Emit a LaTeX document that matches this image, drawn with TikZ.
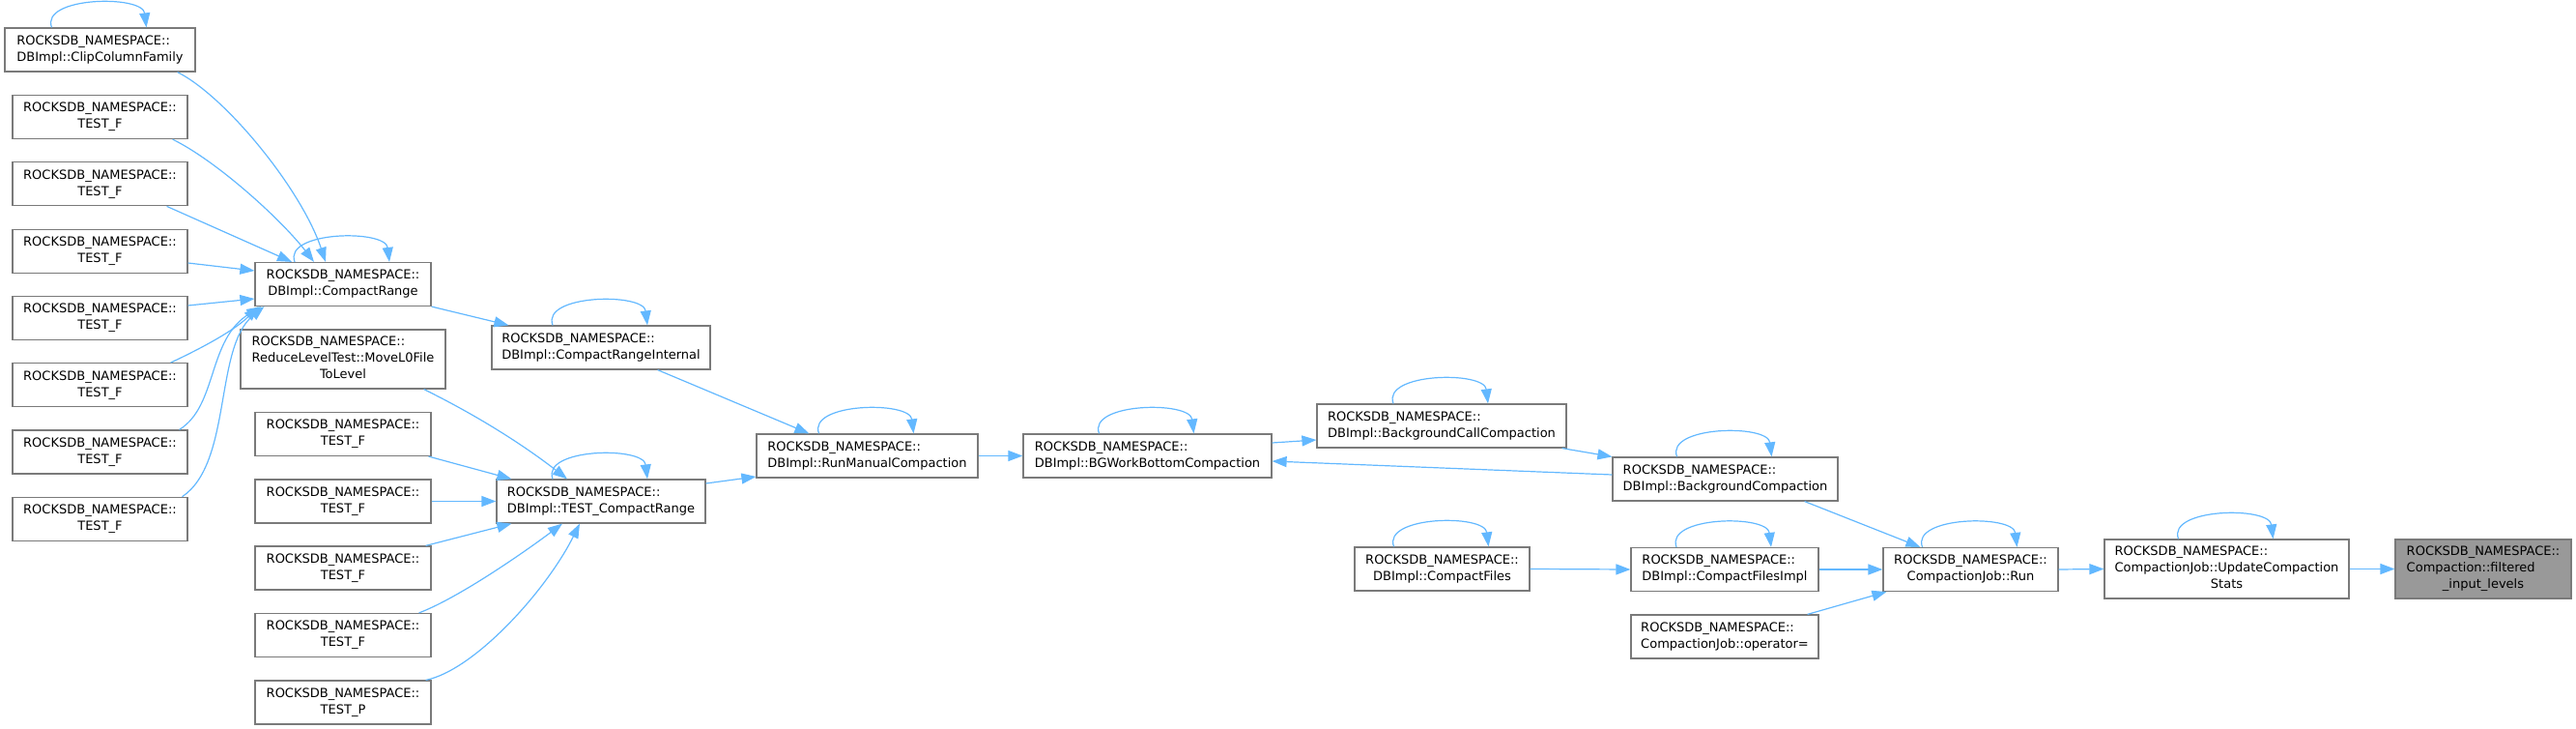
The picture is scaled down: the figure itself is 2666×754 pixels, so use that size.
\documentclass[tikz,border=0pt]{standalone}
\usepackage{fontspec}
\setmainfont{DejaVu Sans}
\usepackage{xcolor}
\usetikzlibrary{arrows.meta}
\definecolor{edgeblue}{HTML}{63B8FF}
\definecolor{boxgray}{HTML}{7A7A7A}
\definecolor{selgray}{HTML}{999999}
\newcommand{\ns}{ROCKSDB\_NAMESPACE::}
\newcommand{\fnname}[2]{\begin{tabular}{@{}l@{}}#1\\\multicolumn{1}{@{}c@{}}{#2}\end{tabular}}
\newcommand{\fnnamelong}[3]{\begin{tabular}{@{}l@{}}#1\\#2\\\multicolumn{1}{@{}c@{}}{#3}\end{tabular}}

\begin{document}
\begin{tikzpicture}[x=1pt,y=-1pt,
    fn/.style={draw=boxgray,line width=1.2pt,fill=white,inner sep=0pt,minimum height=45pt,font=\fontsize{13}{17}\selectfont},
    fnsel/.style={fn,fill=selgray},
    call/.style={draw=edgeblue,line width=1.2pt,-{Triangle[length=15pt,width=11pt]}}]
    \useasboundingbox (0,0) rectangle (2666,754);

    % left column
    \node[fn,minimum width=197pt] (ccf) at (103.5,51.5) {\fnname{\ns}{DBImpl::ClipColumnFamily}};
    \foreach \i/\y in {1/121,2/190.3,3/259.6,4/328.9,5/398.2,6/467.5,7/536.8}
        \node[fn,minimum width=181pt] (tf\i) at (103.5,\y) {\fnname{\ns}{TEST\_F}};

    % second column
    \node[fn,minimum width=182pt] (cr) at (355,294) {\fnname{\ns}{DBImpl::CompactRange}};
    \node[fn,minimum width=212pt,minimum height=61pt] (mvl) at (355,371.5) {\fnnamelong{\ns}{ReduceLevelTest::MoveL0File}{ToLevel}};
    \foreach \i/\y in {1/449,2/518.5,3/587.5,4/657}
        \node[fn,minimum width=182pt] (mf\i) at (355,\y) {\fnname{\ns}{TEST\_F}};
    \node[fn,minimum width=182pt] (mp) at (355,726.5) {\fnname{\ns}{TEST\_P}};

    % the rest
    \node[fn,minimum width=226pt] (cri) at (622,359.5) {\fnname{\ns}{DBImpl::CompactRangeInternal}};
    \node[fn,minimum width=216pt] (tcr) at (622,518.5) {\fnname{\ns}{DBImpl::TEST\_CompactRange}};
    \node[fn,minimum width=229pt] (rmc) at (897.5,471.5) {\fnname{\ns}{DBImpl::RunManualCompaction}};
    \node[fn,minimum width=257pt] (bgw) at (1187.5,471.5) {\fnname{\ns}{DBImpl::BGWorkBottomCompaction}};
    \node[fn,minimum width=258pt] (bcc) at (1492,440.5) {\fnname{\ns}{DBImpl::BackgroundCallCompaction}};
    \node[fn,minimum width=233pt] (bgc) at (1785.5,495.5) {\fnname{\ns}{DBImpl::BackgroundCompaction}};
    \node[fn,minimum width=181pt] (cf) at (1492.5,588.5) {\fnname{\ns}{DBImpl::CompactFiles}};
    \node[fn,minimum width=194pt] (cfi) at (1785,589) {\fnname{\ns}{DBImpl::CompactFilesImpl}};
    \node[fn,minimum width=194pt] (opr) at (1785,658.5) {\fnname{\ns}{CompactionJob::operator=}};
    \node[fn,minimum width=181pt] (run) at (2039.5,589) {\fnname{\ns}{CompactionJob::Run}};
    \node[fn,minimum width=253pt,minimum height=61pt] (ucs) at (2304.5,588.5) {\fnnamelong{\ns}{CompactionJob::UpdateCompaction}{Stats}};
    \node[fnsel,minimum width=182pt,minimum height=61pt] (fil) at (2570,588.5) {\fnnamelong{\ns}{Compaction::filtered}{\_input\_levels}};

    % calls into CompactRange
    \draw[call] ([xshift=-19pt]ccf.south east) .. controls +(50,25) and +(-25,-75) .. ([xshift=-18pt]cr.north);
    \draw[call] ([xshift=-16pt]tf1.south east) .. controls +(45,22) and +(-35,-45) .. ([xshift=-30pt]cr.north);
    \draw[call] ([xshift=-22pt]tf2.south east) -- ([xshift=-53pt]cr.north);
    \draw[call] ([yshift=-12.4pt]tf3.east) -- ([yshift=14pt]cr.west);
    \draw[call] ([yshift=12.9pt]tf4.east) -- ([yshift=-15pt]cr.west);
    \draw[call] ([xshift=-18pt]tf5.north east) .. controls +(30,-14) and +(-25,25) .. ([xshift=4pt]cr.south west);
    \draw[call] ([xshift=-9pt]tf6.north east) .. controls +(40,-25) and +(-56,34) .. ([xshift=7pt]cr.south west);
    \draw[call] ([xshift=-6pt]tf7.north east) .. controls +(52,-35) and +(-52,42) .. ([xshift=10pt]cr.south west);

    % calls into TEST_CompactRange
    \draw[call] ([xshift=-23pt]mvl.south east) .. controls +(55,27) and +(-45,-35) .. ([xshift=-35pt]tcr.north);
    \draw[call] ([xshift=-3pt]mf1.south east) -- ([xshift=16pt]tcr.north west);
    \draw[call] (mf2.east) -- (tcr.west);
    \draw[call] ([xshift=-6pt]mf3.north east) -- ([xshift=16pt]tcr.south west);
    \draw[call] ([xshift=-13pt]mf4.north east) .. controls +(40,-15) and +(-40,30) .. ([xshift=-40pt]tcr.south);
    \draw[call] ([xshift=-6pt]mp.north east) .. controls +(50,-10) and +(-35,70) .. ([xshift=-22pt]tcr.south);

    \draw[call] (cr.south east) -- ([xshift=18pt]cri.north west);
    \draw[call] ([xshift=-55pt]cri.south east) -- ([xshift=55pt]rmc.north west);
    \draw[call] ([yshift=18.5pt]tcr.east) -- ([yshift=-21.5pt]rmc.west);
    \draw[call] (rmc.east) -- (bgw.west);
    \draw[call] ([yshift=13.5pt]bgw.east) -- ([yshift=-14.5pt]bcc.west);
    \draw[call] ([xshift=-5pt]bcc.south east) -- (bgc.north west);
    \draw[call] ([yshift=4.5pt]bgc.west) -- ([yshift=-5.5pt]bgw.east);
    \draw[call] ([xshift=-35pt]bgc.south east) -- ([xshift=39pt]run.north west);
    \draw[call] (cf.east) -- (cfi.west);
    \draw[call] (cfi.east) -- (run.west);
    \draw[call] ([xshift=-12pt]opr.north east) -- ([xshift=4pt]run.south west);
    \draw[call] (run.east) -- (ucs.west);
    \draw[call] (ucs.east) -- (fil.west);

    % recursive calls
    \foreach \n in {ccf,cr,cri,tcr,rmc,bgw,bcc,bgc,cf,cfi,run,ucs}
        \draw[call] ([xshift=-50pt]\n.north) .. controls +(-12,-32) and +(-4,-34) .. ([xshift=48pt]\n.north);
\end{tikzpicture}
\end{document}
